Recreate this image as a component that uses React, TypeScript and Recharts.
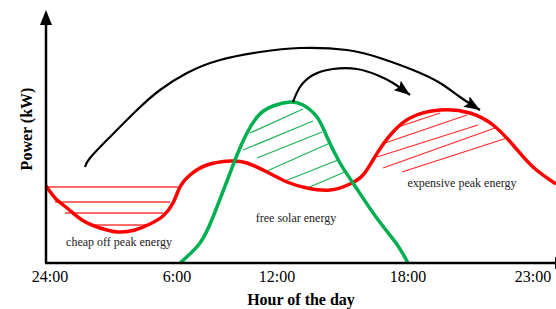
import React from 'react'
import { ComposedChart, Line, XAxis, YAxis, ReferenceLine, ReferenceDot } from 'recharts'

// schematic units: x = position along the day axis, y = power (no real scale)
const TICK_POS = [4, 131, 231, 362, 487]
const TICK_LABELS = ['24:00', '6:00', '12:00', '18:00', '23:00']

// household load (red)
const LOAD: [number, number][] = [
  [0, 77], [10, 64], [21, 55], [36, 43], [54, 35], [72, 31], [89, 33], [104, 39],
  [117, 47], [127, 60], [134, 76], [144, 88], [161, 98], [184, 102], [201, 100],
  [221, 91], [241, 81], [261, 75], [284, 73], [304, 79], [317, 88], [327, 103],
  [338, 120], [347, 131], [364, 145], [394, 153], [424, 150], [447, 138],
  [467, 118], [487, 96], [510, 79],
]

// solar output (green)
const SOLAR: [number, number][] = [
  [134, 0], [154, 20], [167, 46], [181, 82], [191, 108], [200, 128], [212, 147],
  [227, 157], [244, 161], [257, 158], [271, 146], [281, 126], [294, 100],
  [307, 80], [330, 46], [350, 20], [362, 0],
]

// black shift arrows
const SHIFT_LONG: [number, number][] = [
  [39, 96], [44, 105], [64, 126], [91, 153], [114, 173], [141, 190], [174, 203],
  [214, 211], [254, 215], [301, 213], [334, 205], [367, 193], [394, 180],
  [414, 166], [434, 153],
]
const SHIFT_SHORT: [number, number][] = [
  [247, 161], [254, 176], [267, 188], [287, 194], [311, 194], [331, 188],
  [347, 180], [364, 168],
]

// hatch segments [x1, y1, x2, y2]
const OFFPEAK_HATCH = [
  [0, 76, 132, 76], [9, 61, 124, 61], [19, 50, 117, 50], [44, 38, 101, 38],
]
const SOLAR_HATCH = [
  [204, 130, 257, 154], [197, 113, 267, 142], [211, 105, 276, 131],
  [221, 92, 284, 120], [239, 82, 292, 103], [259, 74, 301, 92],
]
const PEAK_HATCH = [
  [349, 135, 394, 150], [339, 120, 421, 148], [331, 106, 432, 138],
  [337, 95, 449, 135], [356, 91, 461, 125],
]

const NOTES = [
  { x: 73, y: 21, text: 'cheap off peak energy' },
  { x: 250, y: 45, text: 'free solar energy' },
  { x: 416, y: 80, text: 'expensive peak energy' },
]

const FONT = "'Liberation Serif', 'Times New Roman', serif"

const toPts = (arr: [number, number][]) => arr.map(([x, y]) => ({ x, y }))

const AxisArrow = (props: any) => {
  const { x1, y1, x2, y2 } = props
  const dx = x2 - x1
  const dy = y2 - y1
  const len = Math.hypot(dx, dy)
  const ux = dx / len
  const uy = dy / len
  const L = 15
  const W = 6
  const bx = x2 - ux * L
  const by = y2 - uy * L
  return (
    <g>
      <line x1={x1} y1={y1} x2={bx + ux * 2} y2={by + uy * 2} stroke="#000" strokeWidth={2.5} />
      <polygon
        points={`${x2},${y2} ${bx - uy * W},${by + ux * W} ${bx + uy * W},${by - ux * W}`}
        fill="#000"
      />
    </g>
  )
}

const hatch = (segs: number[][], color: string, key: string) =>
  segs.map((s, i) => (
    <ReferenceLine
      key={`${key}-${i}`}
      segment={[{ x: s[0], y: s[1] }, { x: s[2], y: s[3] }]}
      stroke={color}
      strokeWidth={1.3}
      ifOverflow="visible"
    />
  ))

export default function App() {
  return (
    <div style={{ position: 'absolute', left: 0, top: 0 }}>
      <svg width={0} height={0} style={{ position: 'absolute' }}>
        <defs>
          <marker
            id="shiftHead"
            viewBox="0 0 16 12"
            refX={16}
            refY={6}
            markerWidth={16}
            markerHeight={12}
            orient="auto"
            markerUnits="userSpaceOnUse"
          >
            <path d="M0,0 L16,6 L0,12 L3,6 z" fill="#000" />
          </marker>
        </defs>
      </svg>
      <ComposedChart width={556} height={309} margin={{ top: 10, right: 0, bottom: 0, left: 0 }}>
        <XAxis
          type="number"
          dataKey="x"
          domain={[0, 510]}
          ticks={TICK_POS}
          tickFormatter={(v: number) => TICK_LABELS[TICK_POS.indexOf(v)] ?? ''}
          axisLine={false}
          tickLine={false}
          height={46}
          tick={{ fontFamily: FONT, fontSize: 16, fill: '#000' }}
          interval={0}
          label={{
            value: 'Hour of the day',
            position: 'insideBottom',
            offset: 4,
            style: { fontFamily: FONT, fontSize: 16, fontWeight: 'bold', fill: '#000' },
          }}
        />
        <YAxis
          type="number"
          domain={[0, 253]}
          width={46}
          tick={false}
          axisLine={false}
          tickLine={false}
          label={{
            value: 'Power (kW)',
            content: (p: any) => {
              const vb = p.viewBox
              const cx = vb.x + 32
              const cy = vb.y + 119
              return (
                <text
                  x={cx}
                  y={cy}
                  textAnchor="middle"
                  transform={`rotate(-90, ${cx}, ${cy})`}
                  style={{ fontFamily: FONT, fontSize: 16, fontWeight: 'bold', fill: '#000' }}
                >
                  Power (kW)
                </text>
              )
            },
          }}
        />

        {hatch(OFFPEAK_HATCH, '#ff3b3b', 'off')}
        {hatch(SOLAR_HATCH, '#1fb35a', 'sol')}
        {hatch(PEAK_HATCH, '#ff2a2a', 'peak')}

        <Line
          data={toPts(LOAD)}
          dataKey="y"
          type="natural"
          stroke="#ff0000"
          strokeWidth={3.5}
          dot={false}
          isAnimationActive={false}
        />
        <Line
          data={toPts(SOLAR)}
          dataKey="y"
          type="natural"
          stroke="#00b050"
          strokeWidth={3.5}
          dot={false}
          isAnimationActive={false}
        />
        <Line
          data={toPts(SHIFT_LONG)}
          dataKey="y"
          type="natural"
          stroke="#000"
          strokeWidth={2.2}
          dot={false}
          markerEnd="url(#shiftHead)"
          isAnimationActive={false}
        />
        <Line
          data={toPts(SHIFT_SHORT)}
          dataKey="y"
          type="natural"
          stroke="#000"
          strokeWidth={2.2}
          dot={false}
          markerEnd="url(#shiftHead)"
          isAnimationActive={false}
        />

        <ReferenceLine
          segment={[{ x: 0, y: 0 }, { x: 0, y: 253 }]}
          ifOverflow="visible"
          shape={AxisArrow}
        />
        <ReferenceLine
          segment={[{ x: -1, y: 0 }, { x: 524, y: 0 }]}
          ifOverflow="visible"
          shape={AxisArrow}
        />

        {NOTES.map((n) => (
          <ReferenceDot
            key={n.text}
            x={n.x}
            y={n.y}
            r={0}
            ifOverflow="visible"
            shape={(p: any) => (
              <text
                x={p.cx}
                y={p.cy}
                textAnchor="middle"
                dominantBaseline="central"
                style={{ fontFamily: FONT, fontSize: 12, fill: '#222' }}
              >
                {n.text}
              </text>
            )}
          />
        ))}
      </ComposedChart>
    </div>
  )
}
